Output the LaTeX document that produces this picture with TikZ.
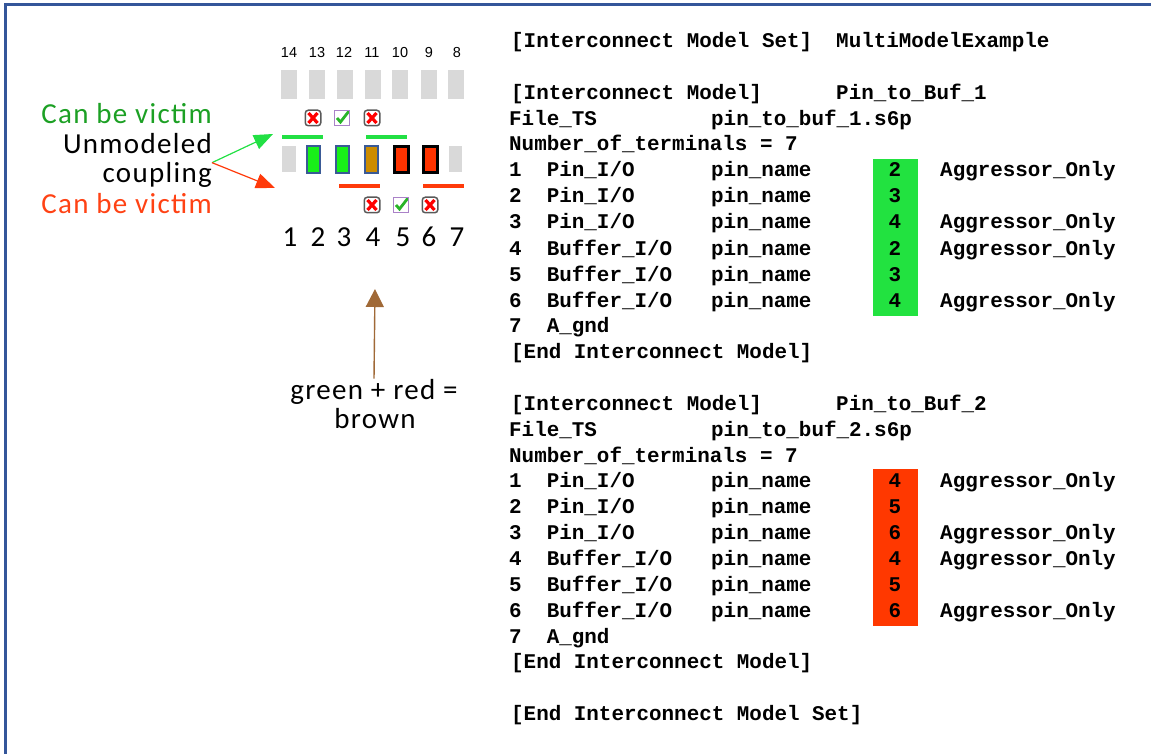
\documentclass[tikz,border=0pt]{standalone}
\usepackage{fontspec}
\setmainfont{Carlito}
\newfontfamily\notefont[LetterSpace=4.5]{Carlito}
\newfontfamily\codefont{Liberation Mono}
\newfontfamily\pinfont{Liberation Sans}
\usetikzlibrary{arrows.meta}

\definecolor{framebl}{RGB}{52,86,154}
\definecolor{padgray}{RGB}{217,217,217}
\definecolor{padgreen}{RGB}{24,240,24}
\definecolor{padbrown}{RGB}{204,140,0}
\definecolor{padred}{RGB}{255,51,0}
\definecolor{padedge}{RGB}{58,90,150}
\definecolor{victgreen}{RGB}{34,224,68}
\definecolor{victred}{RGB}{255,58,10}
\definecolor{txtgreen}{RGB}{28,160,36}
\definecolor{txtred}{RGB}{255,66,20}
\definecolor{mixbrown}{RGB}{160,105,55}
\definecolor{okpurple}{RGB}{170,130,200}
\definecolor{okgreen}{RGB}{40,180,40}
\definecolor{termgreen}{RGB}{34,226,64}
\definecolor{termred}{RGB}{255,56,0}

\begin{document}
\begin{tikzpicture}[x=1pt, y=-1pt,
    code/.style={font=\codefont\bfseries\fontsize{20.9}{24}\selectfont, inner sep=0, anchor=base west},
    termnum/.style={font=\codefont\bfseries\fontsize{20.9}{24}\selectfont, inner sep=0, anchor=base},
    termbox/.style={minimum width=45pt, minimum height=157pt, inner sep=0},
    pinnum/.style={font=\pinfont\fontsize{14.5}{16}\selectfont, inner sep=0, anchor=base},
    bignum/.style={font=\fontsize{29}{32}\selectfont, inner sep=0, anchor=base},
    note/.style={font=\notefont\fontsize{29}{32}\selectfont, inner sep=0, anchor=base east},
    mixnote/.style={font=\notefont\fontsize{29}{32}\selectfont, inner sep=0, anchor=base},
    pad/.style={fill=padgray, minimum width=16pt, minimum height=29pt, inner sep=0},
    usedpad/.style={draw=padedge, line width=1.6pt, minimum width=13.4pt, minimum height=27.4pt, inner sep=0},
    aggpad/.style={draw=black, line width=2.6pt, fill=padred, minimum width=14pt, minimum height=26pt, inner sep=0},
    bar/.style={minimum width=41pt, minimum height=4pt, inner sep=0},
    xmark/.style={draw=black!65, fill=white, rounded corners=3pt, line width=1.5pt, minimum size=15.5pt, inner sep=0,
        path picture={\draw[red, line width=3.2pt]
            ([shift={(-4.5,-5)}]path picture bounding box.center) -- ([shift={(4.5,5)}]path picture bounding box.center)
            ([shift={(-4.5,5)}]path picture bounding box.center) -- ([shift={(4.5,-5)}]path picture bounding box.center);}},
    okmark/.style={draw=okpurple, fill=white, line width=1pt, minimum size=15pt, inner sep=0,
        path picture={\draw[okgreen, line width=2.8pt]
            ([shift={(-5,0)}]path picture bounding box.center) -- ([shift={(-1.5,4)}]path picture bounding box.center)
            -- ([shift={(7,-7)}]path picture bounding box.center);}}
]
\useasboundingbox (0,0) rectangle (1151,754);

% frame
\draw[framebl, line width=3pt] (5,754) -- (5,5) -- (1151,5);

% package pins, top row
\node[pinnum] (n14) at (289,58) {14};
\node[pinnum] (n13) at (317,58) {13};
\node[pinnum] (n12) at (344,58) {12};
\node[pinnum] (n11) at (372,58) {11};
\node[pinnum] (n10) at (400,58) {10};
\node[pinnum] (n9) at (429,58) {9};
\node[pinnum] (n8) at (457,58) {8};

\node[pad] (p14) at (289,84.5) {};
\node[pad] (p13) at (317,84.5) {};
\node[pad] (p12) at (345,84.5) {};
\node[pad] (p11) at (373,84.5) {};
\node[pad] (p10) at (400,84.5) {};
\node[pad] (p9) at (429,84.5) {};
\node[pad] (p8) at (456,84.5) {};

\node[xmark] (x13) at (313,118) {};
\node[okmark] (ok12) at (342,118) {};
\node[xmark] (x11) at (372,118) {};

\node[bar, fill=victgreen] (gbar1) at (302.5,137) {};
\node[bar, fill=victgreen] (gbar2) at (386.5,137) {};

% package pins, bottom row
\node[pad, minimum width=14pt, minimum height=26pt] (p1) at (289,159.5) {};
\node[usedpad, fill=padgreen] (p2) at (313.5,159.5) {};
\node[usedpad, fill=padgreen] (p3) at (342.5,159.5) {};
\node[usedpad, fill=padbrown] (p4) at (371.5,159.5) {};
\node[aggpad] (p5) at (401.5,159.5) {};
\node[aggpad] (p6) at (430.5,159.5) {};
\node[pad, minimum width=13pt, minimum height=26pt] (p7) at (455.5,159.5) {};

\node[bar, fill=victred] (rbar1) at (359,186) {};
\node[bar, fill=victred] (rbar2) at (443.5,186) {};

\node[xmark] (x4) at (372,205) {};
\node[okmark] (ok5) at (401,205) {};
\node[xmark] (x6) at (430,205) {};

\node[bignum] (n1) at (290,247) {1};
\node[bignum] (n2) at (318,247) {2};
\node[bignum] (n3) at (344,247) {3};
\node[bignum] (n4) at (373,247) {4};
\node[bignum] (n5) at (403,247) {5};
\node[bignum] (n6) at (429,247) {6};
\node[bignum] (n7) at (457,247) {7};

% notes
\node[note, text=txtgreen] (vicg) at (212,124) {Can be victim};
\node[note] (unmod) at (212,154) {Unmodeled};
\node[note] (coupl) at (212,183) {coupling};
\node[note, text=txtred] (vicr) at (212,214) {Can be victim};

\coordinate (gtip) at (273,134);
\coordinate (rtip) at (275,188);
\draw[victgreen, line width=1.2pt, -{Triangle[length=19pt,width=15pt]}] (coupl.north east) -- (gtip);
\draw[victred, line width=1.2pt, -{Triangle[length=19pt,width=15pt]}] (coupl.north east) -- (rtip);

\node[mixnote] (mix1) at (374,399) {green + red =};
\node[mixnote] (mix2) at (375,428) {brown};
\coordinate (mixtip) at (375,289);
\draw[mixbrown, line width=1.4pt, -{Triangle[length=18pt,width=18pt]}] (mix1.north) -- (mixtip);

% model set listing
\node[code] (setkw) at (511,48) {[Interconnect Model Set]};
\node[code] (setnm) at (836,48) {MultiModelExample};

% first model
\node[termbox, fill=termgreen] (tbox1) at (895.5,237.5) {};
\node[code] (mdl1kw) at (511,100) {[Interconnect Model]};
\node[code] (mdl1nm) at (836,100) {Pin\_to\_Buf\_1};
\node[code] (file1kw) at (509,126) {File\_TS};
\node[code] (file1nm) at (711,126) {pin\_to\_buf\_1.s6p};
\node[code] (nterm1) at (509,151) {Number\_of\_terminals = 7};
\node[code] (m1t1) at (509,177) {1~~Pin\_I/O};
\node[code] (m1p1) at (711,177) {pin\_name};
\node[termnum] (m1n1) at (895,177) {2};
\node[code] (m1a1) at (940,177) {Aggressor\_Only};
\node[code] (m1t2) at (509,203) {2~~Pin\_I/O};
\node[code] (m1p2) at (711,203) {pin\_name};
\node[termnum] (m1n2) at (895,203) {3};
\node[code] (m1t3) at (509,229) {3~~Pin\_I/O};
\node[code] (m1p3) at (711,229) {pin\_name};
\node[termnum] (m1n3) at (895,229) {4};
\node[code] (m1a3) at (940,229) {Aggressor\_Only};
\node[code] (m1t4) at (509,255) {4~~Buffer\_I/O};
\node[code] (m1p4) at (711,255) {pin\_name};
\node[termnum] (m1n4) at (895,255) {2};
\node[code] (m1a4) at (940,255) {Aggressor\_Only};
\node[code] (m1t5) at (509,281) {5~~Buffer\_I/O};
\node[code] (m1p5) at (711,281) {pin\_name};
\node[termnum] (m1n5) at (895,281) {3};
\node[code] (m1t6) at (509,307) {6~~Buffer\_I/O};
\node[code] (m1p6) at (711,307) {pin\_name};
\node[termnum] (m1n6) at (895,307) {4};
\node[code] (m1a6) at (940,307) {Aggressor\_Only};
\node[code] (m1t7) at (509,332) {7~~A\_gnd};
\node[code] (end1) at (511,358) {[End Interconnect Model]};

% second model
\node[termbox, fill=termred] (tbox2) at (895.5,547.5) {};
\node[code] (mdl2kw) at (511,410) {[Interconnect Model]};
\node[code] (mdl2nm) at (836,410) {Pin\_to\_Buf\_2};
\node[code] (file2kw) at (509,436) {File\_TS};
\node[code] (file2nm) at (711,436) {pin\_to\_buf\_2.s6p};
\node[code] (nterm2) at (509,462) {Number\_of\_terminals = 7};
\node[code] (m2t1) at (509,487) {1~~Pin\_I/O};
\node[code] (m2p1) at (711,487) {pin\_name};
\node[termnum] (m2n1) at (895,487) {4};
\node[code] (m2a1) at (940,487) {Aggressor\_Only};
\node[code] (m2t2) at (509,513) {2~~Pin\_I/O};
\node[code] (m2p2) at (711,513) {pin\_name};
\node[termnum] (m2n2) at (895,513) {5};
\node[code] (m2t3) at (509,539) {3~~Pin\_I/O};
\node[code] (m2p3) at (711,539) {pin\_name};
\node[termnum] (m2n3) at (895,539) {6};
\node[code] (m2a3) at (940,539) {Aggressor\_Only};
\node[code] (m2t4) at (509,565) {4~~Buffer\_I/O};
\node[code] (m2p4) at (711,565) {pin\_name};
\node[termnum] (m2n4) at (895,565) {4};
\node[code] (m2a4) at (940,565) {Aggressor\_Only};
\node[code] (m2t5) at (509,591) {5~~Buffer\_I/O};
\node[code] (m2p5) at (711,591) {pin\_name};
\node[termnum] (m2n5) at (895,591) {5};
\node[code] (m2t6) at (509,617) {6~~Buffer\_I/O};
\node[code] (m2p6) at (711,617) {pin\_name};
\node[termnum] (m2n6) at (895,617) {6};
\node[code] (m2a6) at (940,617) {Aggressor\_Only};
\node[code] (m2t7) at (509,643) {7~~A\_gnd};
\node[code] (end2) at (511,668) {[End Interconnect Model]};

\node[code] (endset) at (511,720) {[End Interconnect Model Set]};
\end{tikzpicture}
\end{document}
